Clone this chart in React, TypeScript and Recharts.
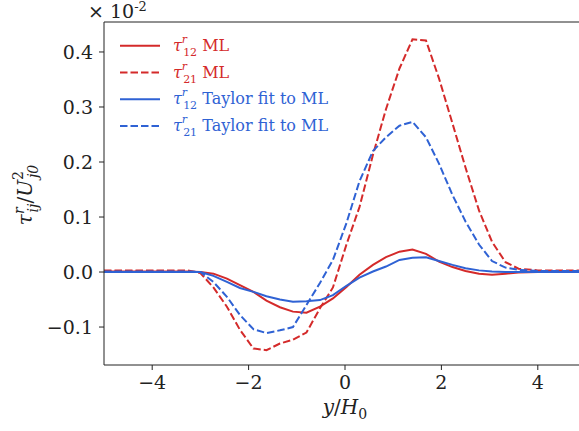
import { LineChart, Line, XAxis, YAxis } from "recharts";

const xs = [
  -5.0, -4.0, -3.28, -3.0, -2.73, -2.45, -2.18, -1.9, -1.63, -1.35, -1.08, -0.8, -0.52, -0.25, 0.03, 0.3,
  0.58, 0.85, 1.13, 1.4, 1.68, 1.95, 2.23, 2.5, 2.78, 3.05, 3.33, 3.6, 4.0, 4.5, 5.0,
];

const tau12ML = [
  0.001, 0.001, 0.001, 0.0, -0.003, -0.012, -0.024, -0.036, -0.052, -0.064, -0.072, -0.074, -0.063, -0.048, -0.027, -0.005,
  0.013, 0.027, 0.037, 0.041, 0.033, 0.019, 0.009, 0.002, -0.003, -0.005, -0.003, -0.001, 0.0, 0.0, 0.0,
];

const tau21ML = [
  0.003, 0.003, 0.003, -0.002, -0.028, -0.063, -0.105, -0.139, -0.142, -0.13, -0.123, -0.11, -0.066, -0.028, 0.05, 0.118,
  0.213, 0.296, 0.37, 0.423, 0.421, 0.352, 0.27, 0.19, 0.112, 0.055, 0.018, 0.006, 0.003, 0.003, 0.003,
];

const tau12Taylor = [
  0.0, 0.0, 0.0, 0.0, -0.007, -0.018, -0.029, -0.036, -0.044, -0.05, -0.054, -0.053, -0.051, -0.042, -0.025, -0.01,
  0.001, 0.01, 0.022, 0.026, 0.027, 0.02, 0.013, 0.007, 0.003, 0.001, 0.0, 0.0, 0.0, 0.0, 0.0,
];

const tau21Taylor = [
  0.001, 0.001, 0.001, 0.0, -0.018, -0.045, -0.078, -0.104, -0.111, -0.106, -0.1, -0.06, -0.02, 0.022, 0.089, 0.165,
  0.22, 0.245, 0.266, 0.273, 0.245, 0.197, 0.14, 0.092, 0.05, 0.02, 0.008, 0.004, 0.002, 0.002, 0.002,
];

const xTicks = [-4, -2, 0, 2, 4];
const yTicks = [-0.1, 0.0, 0.1, 0.2, 0.3, 0.4];

const RED = "#d42a2a";
const BLUE = "#2f62d4";
const INK = "#222";
const FONT = "'DejaVu Serif', serif";

const data = xs.map((x, i) => ({
  x,
  t12ml: tau12ML[i],
  t21ml: tau21ML[i],
  t12tay: tau12Taylor[i],
  t21tay: tau21Taylor[i],
}));

const legendItems = [
  { color: RED, dash: false, sub: "12", rest: "ML" },
  { color: RED, dash: true, sub: "21", rest: "ML" },
  { color: BLUE, dash: false, sub: "12", rest: "Taylor fit to ML" },
  { color: BLUE, dash: true, sub: "21", rest: "Taylor fit to ML" },
];

const minus = (s: string) => s.replace("-", "\u2212");

export default function App() {
  return (
    <div
      style={{
        position: "absolute",
        left: 0,
        top: 0,
        width: 579,
        height: 431,
        overflow: "hidden",
        background: "#fff",
        fontFamily: FONT,
      }}
    >
      <LineChart
        width={600}
        height={431}
        data={data}
        margin={{ top: 22, right: 14, left: 0, bottom: 36 }}
        style={{ fontFamily: FONT }}
      >
        <XAxis
          dataKey="x"
          type="number"
          domain={[-5, 5]}
          ticks={xTicks}
          tickFormatter={(v: number) => minus(String(v))}
          tick={{ fill: INK, fontSize: 19, style: { fontFamily: FONT } }}
          height={30}
          tickSize={5}
          tickMargin={6}
          stroke={INK}
          allowDataOverflow
        />
        <YAxis
          type="number"
          domain={[-0.169, 0.4545]}
          ticks={yTicks}
          tickFormatter={(v: number) => minus(v.toFixed(1))}
          tick={{ fill: INK, fontSize: 19, style: { fontFamily: FONT } }}
          width={104}
          tickSize={5}
          tickMargin={6}
          stroke={INK}
          allowDataOverflow
        />
        <Line dataKey="t12ml" stroke={RED} strokeWidth={2} dot={false} isAnimationActive={false} />
        <Line dataKey="t21ml" stroke={RED} strokeWidth={2} strokeDasharray="7.5 3" dot={false} isAnimationActive={false} />
        <Line dataKey="t12tay" stroke={BLUE} strokeWidth={2} dot={false} isAnimationActive={false} />
        <Line dataKey="t21tay" stroke={BLUE} strokeWidth={2} strokeDasharray="7.5 3" dot={false} isAnimationActive={false} />
      </LineChart>
      <svg
        width={579}
        height={431}
        style={{ position: "absolute", left: 0, top: 0, pointerEvents: "none", fontFamily: FONT }}
      >
        <line x1={104} x2={600} y1={22} y2={22} stroke={INK} strokeWidth={1} />
        {legendItems.map((it, i) => {
          const y = 45.7 + i * 26.8;
          return (
            <g key={i}>
              <line
                x1={120}
                x2={160}
                y1={y}
                y2={y}
                stroke={it.color}
                strokeWidth={2}
                strokeDasharray={it.dash ? "7.5 3" : undefined}
              />
              <text x={173} y={y + 5} fill={it.color} fontSize={16}>
                <tspan fontStyle="italic">τ</tspan>
                <tspan fontSize={11} fontStyle="italic" dy={-8}>r</tspan>
                <tspan fontSize={11} dx={-4} dy={13}>{it.sub}</tspan>
                <tspan dy={-5}> {it.rest}</tspan>
              </text>
            </g>
          );
        })}
        <text x={88} y={18} fill={INK} fontSize={19}>
          × 10<tspan fontSize={13} dy={-7}>-2</tspan>
        </text>
        <text x={345} y={414} textAnchor="middle" fill={INK} fontSize={20}>
          <tspan fontStyle="italic">y</tspan>/<tspan fontStyle="italic">H</tspan>
          <tspan fontSize={14} dy={5}>0</tspan>
        </text>
        <text transform="translate(32,195) rotate(-90)" textAnchor="middle" fill={INK} fontSize={20}>
          <tspan fontStyle="italic">τ</tspan>
          <tspan fontSize={14} fontStyle="italic" dy={-8}>r</tspan>
          <tspan fontSize={14} fontStyle="italic" dx={-5} dy={14}>ij</tspan>
          <tspan dy={-6}>/</tspan>
          <tspan fontStyle="italic">U</tspan>
          <tspan fontSize={14} dy={-9}>2</tspan>
          <tspan fontSize={14} fontStyle="italic" dx={-7} dy={15}>j0</tspan>
        </text>
      </svg>
    </div>
  );
}
